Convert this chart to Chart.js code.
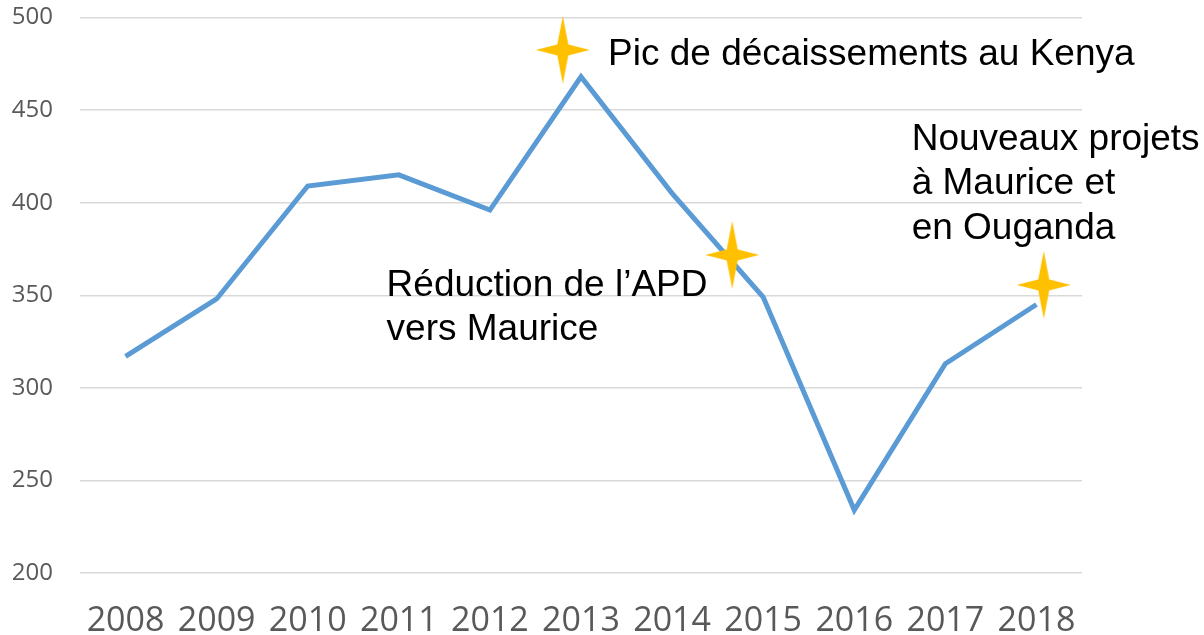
<!DOCTYPE html>
<html>
<head>
<meta charset="utf-8">
<script src="https://cdn.jsdelivr.net/npm/chart.js@4"></script>
<style>
html,body{margin:0;padding:0;background:#fff;}
canvas{display:block;}
</style>
</head>
<body>
<canvas id="c" width="1204" height="635"></canvas>
<script>
// ---- data ----
const years = ['2008','2009','2010','2011','2012','2013','2014','2015','2016','2017','2018'];
const values = [317, 348, 409, 415, 396, 468, 405, 349, 234, 313, 345];
const yTicks = [200, 250, 300, 350, 400, 450, 500];
// star markers (fractional category index, value)
const starX = [4.80, 6.66, 10.08];
const starY = [482.5, 371.8, 355.6];
// annotations: text lines, anchor (category index, value) at left/baseline of first line
const noteLines = [
  ['Pic de décaissements au Kenya'],
  ['Réduction de l\u2019APD', 'vers Maurice'],
  ['Nouveaux projets', 'à Maurice et', 'en Ouganda']
];
const noteX = [5.297, 2.866, 8.63];
const noteY = [474.4, 349.7, 428.7];

// star image
function makeStar(){
  const w = 56, h = 70;
  const cv = document.createElement('canvas');
  cv.width = w; cv.height = h;
  const g = cv.getContext('2d');
  const cx = w/2, cy = h/2, rx = 27, ry = 34, r = 5.5;
  g.fillStyle = '#FFC000';
  g.beginPath();
  g.moveTo(cx, cy-ry);
  g.lineTo(cx+r, cy-r);
  g.lineTo(cx+rx, cy);
  g.lineTo(cx+r, cy+r);
  g.lineTo(cx, cy+ry);
  g.lineTo(cx-r, cy+r);
  g.lineTo(cx-rx, cy);
  g.lineTo(cx-r, cy-r);
  g.closePath();
  g.fill();
  return cv;
}
const star = makeStar();

const notesPlugin = {
  id: 'notes',
  afterDatasetsDraw(chart){
    const ctx = chart.ctx;
    const xs = chart.scales.x, ys = chart.scales.y;
    ctx.save();
    ctx.font = '37px "Liberation Sans", Arial, sans-serif';
    ctx.fillStyle = '#000';
    ctx.textAlign = 'left';
    ctx.textBaseline = 'alphabetic';
    noteLines.forEach((lines, i) => {
      const px = xs.getPixelForValue(noteX[i]);
      const py = ys.getPixelForValue(noteY[i]);
      lines.forEach((t, j) => ctx.fillText(t, px, py + j*44.5));
    });
    ctx.restore();
  }
};

new Chart(document.getElementById('c'), {
  type: 'line',
  data: {
    datasets: [
      {
        type: 'scatter',
        data: starX.map((x, i) => ({x, y: starY[i]})),
        pointStyle: star,
        pointRadius: 28,
        clip: false,
        order: 0
      },
      {
        data: values.map((v, i) => ({x: i, y: v})),
        borderColor: '#5B9BD5',
        borderWidth: 5,
        pointRadius: 0,
        tension: 0,
        borderJoinStyle: 'miter',
        fill: false,
        order: 1
      }
    ]
  },
  options: {
    responsive: false,
    devicePixelRatio: 1,
    animation: false,
    layout: { autoPadding: false, padding: { top: 17.5, right: 122, left: 0, bottom: 0 } },
    plugins: { legend: { display: false }, tooltip: { enabled: false } },
    scales: {
      x: {
        type: 'linear',
        min: -0.5,
        max: 10.5,
        afterBuildTicks: s => { s.ticks = years.map((_, i) => ({value: i})); },
        afterFit: s => { s.height = 62; s.paddingLeft = 0; s.paddingRight = 0; },
        grid: { display: false, drawTicks: false },
        border: { display: false },
        ticks: {
          autoSkip: false,
          maxRotation: 0,
          padding: 28,
          color: '#595959',
          font: { family: '"Open Sans", sans-serif', size: 34 },
          callback: v => years[v]
        }
      },
      y: {
        min: 200,
        max: 500,
        afterBuildTicks: s => { s.ticks = yTicks.map(v => ({value: v})); },
        afterFit: s => { s.width = 80; s.paddingTop = 0; s.paddingBottom = 0; },
        grid: { color: '#D9D9D9', lineWidth: 1.5, drawTicks: false },
        border: { display: false },
        ticks: {
          padding: 27,
          color: '#595959',
          font: { family: '"Open Sans", sans-serif', size: 24 }
        }
      }
    }
  },
  plugins: [notesPlugin]
});
</script>
</body>
</html>
